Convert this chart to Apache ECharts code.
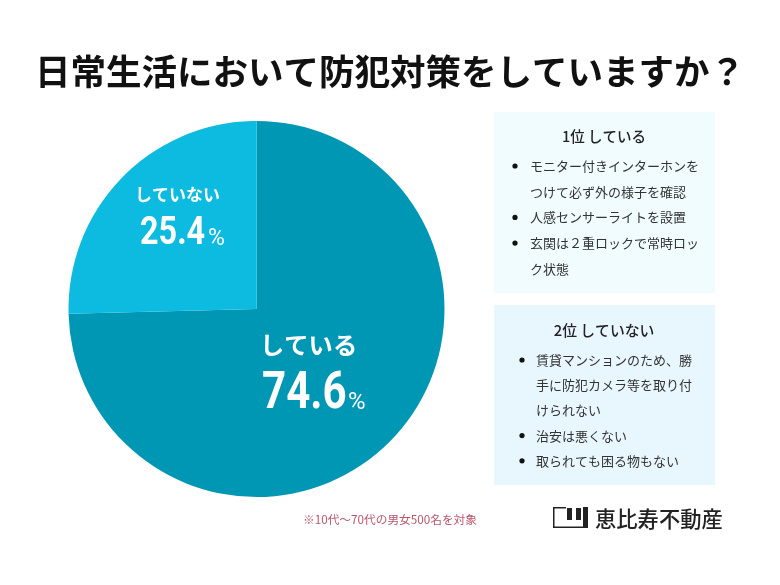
<!DOCTYPE html>
<html><head><meta charset="utf-8">
<style>html,body{margin:0;padding:0;background:#fff}#c{width:780px;height:585px}</style>
<script src="https://cdn.jsdelivr.net/npm/echarts@6/dist/echarts.min.js"></script>
</head><body><div id="c"></div>
<script>
const titleText = '日常生活において防犯対策をしていますか？';
const categories = ['している', 'していない'];
const values = [74.6, 25.4];
const colors = ['#0097b4', '#0dbbe0'];
const box1Title = '1位 している';
const box1Items = [['モニター付きインターホンを', 'つけて必ず外の様子を確認'], ['人感センサーライトを設置'], ['玄関は２重ロックで常時ロッ', 'ク状態']];
const box2Title = '2位 していない';
const box2Items = [['賃貸マンションのため、勝', '手に防犯カメラ等を取り付', 'けられない'], ['治安は悪くない'], ['取られても困る物もない']];
const noteText = '※10代〜70代の男女500名を対象';
const logoText = '恵比寿不動産';

const F = '"Noto Sans CJK JP","Noto Sans",sans-serif';
const g = [];
function txt(x, y, text, size, color, weight, extra, scaleX) {
  g.push({type:'text', x, y, z:10, scaleX:scaleX||1, style:Object.assign({text, fill:color, fontSize:size, fontWeight:weight||400, fontFamily:F, textVerticalAlign:'middle', textAlign:'left'}, extra||{})});
}
function box(x, y, w, h, color) {
  g.push({type:'rect', shape:{x, y, width:w, height:h}, style:{fill:color}, z:1});
}
function ink(x, y, w, h) {
  g.push({type:'rect', shape:{x, y, width:w, height:h}, style:{fill:'#222'}, z:10});
}
function list(items, bx, tx, y0, step) {
  let y = y0;
  items.forEach(lines => {
    g.push({type:'circle', shape:{cx:bx, cy:y, r:2.6}, style:{fill:'#111'}, z:10});
    lines.forEach(l => { txt(tx, y, l, 13, '#333', 400); y += step; });
  });
}
const shadow = {shadowColor:'rgba(0,60,80,0.35)', shadowBlur:5, shadowOffsetY:1};
const R = 'Roboto,' + F;
txt(390, 72, titleText, 35.5, '#111', 700, {textAlign:'center'});

box(494, 112, 221, 181, '#f0fcff');
txt(604, 136, box1Title, 14.5, '#222', 500, {textAlign:'center'});
list(box1Items, 515, 530, 166, 25.7);

box(494, 305, 221, 180, '#e8f6fe');
txt(604, 330, box2Title, 14.8, '#222', 500, {textAlign:'center'});
list(box2Items, 522, 536, 360, 25.2);

txt(303, 520, noteText, 11.7, '#b9566c', 400);

// logo mark
ink(553, 508, 1.5, 20);
ink(553, 526.5, 35, 1.5);
ink(553, 507, 13, 1.5);
ink(567, 508, 5, 12);
ink(576, 508, 5, 12);
ink(583, 507, 5, 21);
txt(595, 519, logoText, 21.3, '#222', 500);

txt(135, 195, categories[1], 17, '#fff', 700, shadow);
txt(140, 234, values[1].toFixed(1), 39, '#fff', 700, Object.assign({fontFamily:R}, shadow), 0.83);
txt(208, 239, '%', 23, '#fff', 400, Object.assign({fontFamily:R}, shadow));

txt(260, 345, categories[0], 24.3, '#fff', 700, shadow);
txt(262, 395, values[0].toFixed(1), 52, '#fff', 700, Object.assign({fontFamily:R}, shadow), 0.81);
txt(348, 403, '%', 24, '#fff', 400, Object.assign({fontFamily:R}, shadow));

const chart = echarts.init(document.getElementById('c'), null, {renderer:'canvas'});
chart.setOption({
  animation:false,
  backgroundColor:'#fff',
  color:colors,
  graphic:{elements:g},
  series:[{
    type:'pie', center:[256.5,309], radius:[0,188], startAngle:90, clockwise:true,
    label:{show:false}, labelLine:{show:false}, silent:true,
    data:categories.map((n,i)=>({name:n, value:values[i]}))
  }]
});
</script></body></html>
